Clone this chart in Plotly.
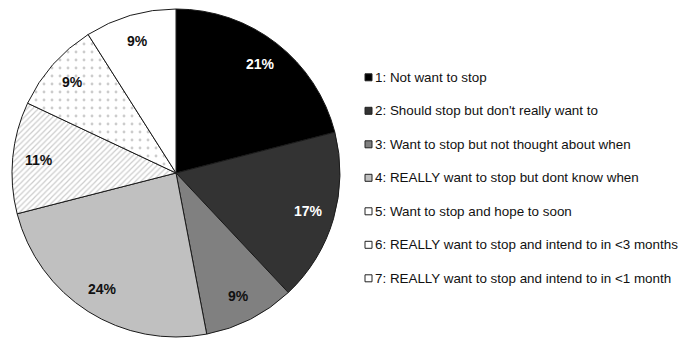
import math
import plotly.graph_objects as go

# Stages of readiness to stop, share of respondents (%)
labels = [
    "1: Not want to stop",
    "2: Should stop but don't really want to",
    "3: Want to stop but not thought about when",
    "4: REALLY want to stop but dont know when",
    "5: Want to stop and hope to soon",
    "6: REALLY want to stop and intend to in <3 months",
    "7: REALLY want to stop and intend to in <1 month",
]
values = [21, 17, 9, 24, 11, 9, 9]

fill_colors = ["#000000", "#333333", "#808080", "#c0c0c0", "#ffffff", "#ffffff", "#ffffff"]
pattern_shapes = ["", "", "", "", "/", ".", ""]
text_colors = ["#ffffff", "#ffffff", "#111111", "#111111", "#111111", "#111111", "#111111"]

W, H = 692, 339
FONT = "Liberation Sans, Arial, sans-serif"

# pie placement in pixels
cx, cy, R = 176, 173, 164

fig = go.Figure()
fig.add_trace(go.Pie(
    labels=labels,
    values=values,
    sort=False,
    direction="clockwise",
    rotation=0,
    textinfo="none",
    marker=dict(
        colors=fill_colors,
        line=dict(color="#1a1a1a", width=1),
        pattern=dict(
            shape=pattern_shapes,
            fgcolor="#9a9a9a",
            bgcolor=fill_colors,
            size=[8, 8, 8, 8, 4, 8, 8],
            solidity=[0.3, 0.3, 0.3, 0.3, 0.3, 0.1, 0.3],
            fillmode="overlay",
        ),
    ),
    domain=dict(x=[(cx - R - 1) / W, (cx + R + 1) / W],
                y=[1 - (cy + R) / H, 1 - (cy - R) / H]),
    showlegend=False,
    hoverinfo="label+value",
))

annotations = []
shapes = []

# Percentage labels, placed along each slice's mid angle (clockwise from 12 o'clock)
total = sum(values)
cum = 0
r_lab = 0.84 * R
for v, tc in zip(values, text_colors):
    mid = (cum + v / 2) / total * 2 * math.pi
    cum += v
    px = cx + r_lab * math.sin(mid)
    py = cy - r_lab * math.cos(mid)
    annotations.append(dict(
        xref="paper", yref="paper", x=px / W, y=1 - py / H,
        text=f"<b>{v}%</b>", showarrow=False, xanchor="center", yanchor="middle",
        font=dict(family=FONT, size=14, color=tc),
    ))

# Legend drawn as swatches and labels to the right of the pie
legend_top = 77.3
legend_step = 33.5
sw = 7
x_sw = 365
for i, (lab, col) in enumerate(zip(labels, fill_colors)):
    yc = legend_top + i * legend_step
    shapes.append(dict(
        type="rect", xref="paper", yref="paper",
        x0=x_sw / W, x1=(x_sw + sw) / W,
        y0=1 - (yc - sw / 2) / H, y1=1 - (yc + sw / 2) / H,
        fillcolor=col, line=dict(color="#222222", width=1),
    ))
    annotations.append(dict(
        xref="paper", yref="paper", x=(x_sw + sw + 1) / W, y=1 - yc / H,
        text=lab, showarrow=False, xanchor="left", yanchor="middle",
        font=dict(family=FONT, size=13.4, color="#111111"),
    ))

fig.update_layout(
    width=W, height=H,
    margin=dict(l=0, r=0, t=0, b=0),
    paper_bgcolor="#ffffff",
    plot_bgcolor="#ffffff",
    shapes=shapes,
    annotations=annotations,
)

fig.write_html("out.html")
